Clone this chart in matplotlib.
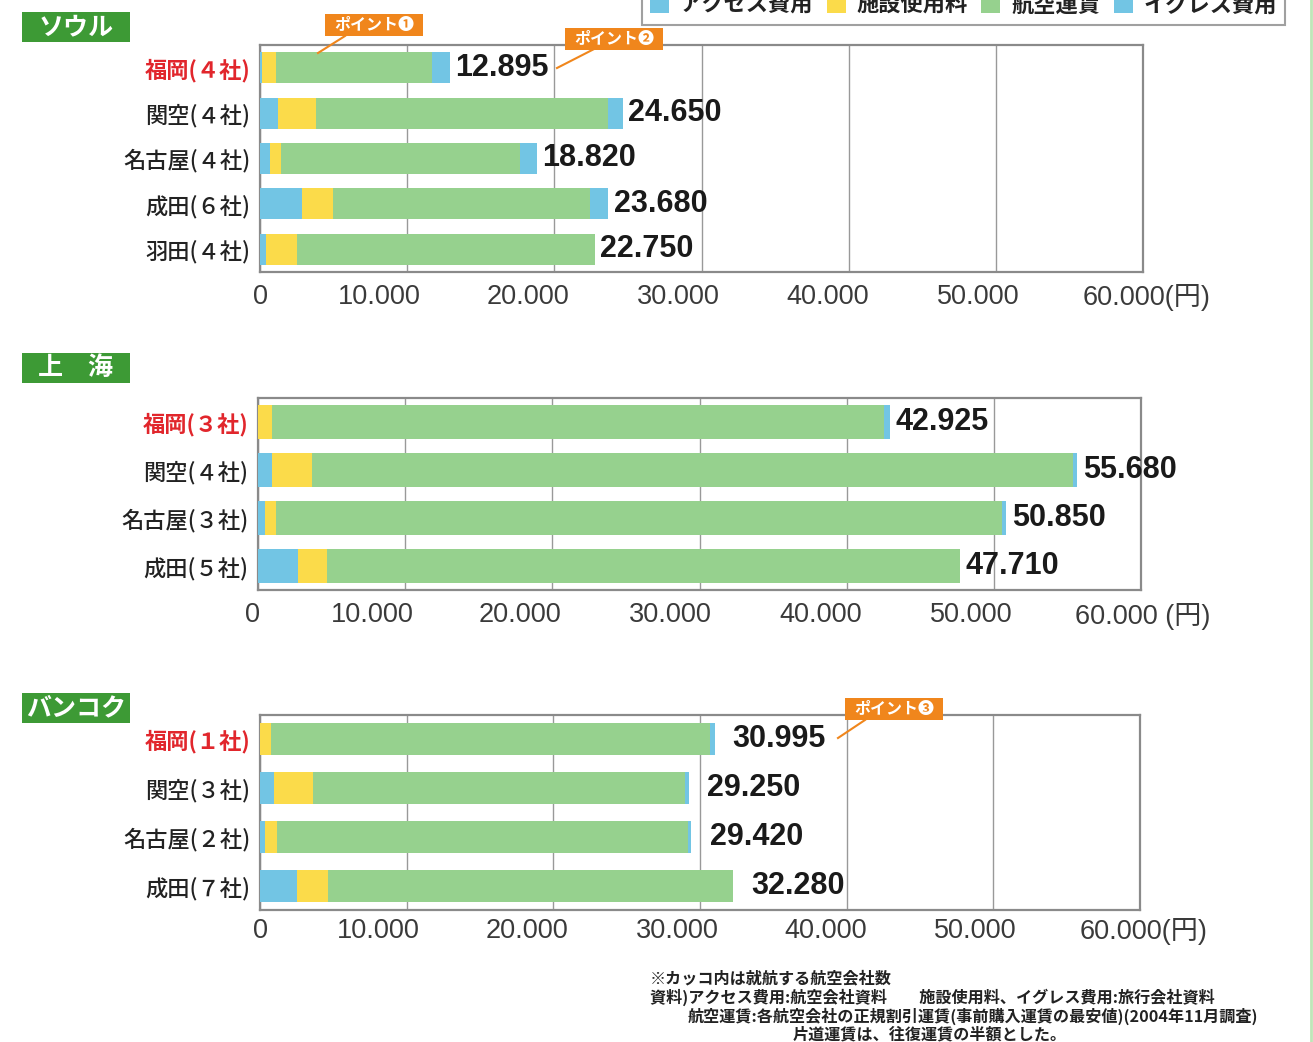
import matplotlib
matplotlib.use("Agg")
import matplotlib.pyplot as plt
from matplotlib.patches import Rectangle, Patch
from matplotlib.lines import Line2D
import numpy as np

plt.rcParams['font.family'] = ['Noto Sans CJK JP', 'DejaVu Sans']

# ---------------- data ----------------
seoul_labels = ["福岡(４社)", "関空(４社)", "名古屋(４社)", "成田(６社)", "羽田(４社)"]
seoul_access = [150, 1200, 700, 2850, 400]
seoul_facility = [945, 2600, 750, 2100, 2100]
seoul_air = [10600, 19850, 16200, 17480, 20250]
seoul_egress = [1200, 1000, 1170, 1250, 0]
seoul_totals = ["12.895", "24.650", "18.820", "23.680", "22.750"]

shanghai_labels = ["福岡(３社)", "関空(４社)", "名古屋(３社)", "成田(５社)"]
shanghai_access = [0, 950, 450, 2700]
shanghai_facility = [950, 2700, 800, 2000]
shanghai_air = [41600, 51700, 49300, 43010]
shanghai_egress = [375, 330, 300, 0]
shanghai_totals = ["42.925", "55.680", "50.850", "47.710"]

bangkok_labels = ["福岡(１社)", "関空(３社)", "名古屋(２社)", "成田(７社)"]
bangkok_access = [0, 950, 350, 2500]
bangkok_facility = [750, 2650, 800, 2150]
bangkok_air = [29900, 25400, 28000, 27630]
bangkok_egress = [345, 250, 270, 0]
bangkok_totals = ["30.995", "29.250", "29.420", "32.280"]

x_ticks = [0, 10000, 20000, 30000, 40000, 50000, 60000]
x_ticklabels = ["0", "10.000", "20.000", "30.000", "40.000", "50.000", "60.000(円)"]
x_ticklabels_sh = ["0", "10.000", "20.000", "30.000", "40.000", "50.000", "60.000 (円)"]

legend_labels = ["アクセス費用", "施設使用料", "航空運賃", "イグレス費用"]
titles = ["ソウル", "上　海", "バンコク"]
points = ["ポイント❶", "ポイント❷", "ポイント❸"]
notes = ["※カッコ内は就航する航空会社数",
         "資料)アクセス費用:航空会社資料　　施設使用料、イグレス費用:旅行会社資料",
         "航空運賃:各航空会社の正規割引運賃(事前購入運賃の最安値)(2004年11月調査)",
         "片道運賃は、往復運賃の半額とした。"]

# ---------------- style ----------------
C_BLUE = "#72c5e4"
C_YEL = "#fbdb4a"
C_GRN = "#96d18e"
C_TITLE = "#3d9a35"
C_ORANGE = "#f0861c"
C_RED = "#e1262c"

W, H = 1313, 1042
fig = plt.figure(figsize=(W / 100, H / 100), dpi=100)

def fx(px):
    return px / W

def fy(py):
    return 1 - py / H

def panel(rect_px, labels, acc, fac, air, egr, totals, ticklabels, bar_h, lab_off, tick_shift, xpad):
    x0, y0, x1, y1 = rect_px
    ax = fig.add_axes([fx(x0), fy(y1), fx(x1 - x0), (y1 - y0) / H])
    n = len(labels)
    y = np.arange(n)
    acc = np.array(acc); fac = np.array(fac); air = np.array(air); egr = np.array(egr)
    ax.barh(y, acc, height=bar_h, color=C_BLUE, zorder=3)
    ax.barh(y, fac, left=acc, height=bar_h, color=C_YEL, zorder=3)
    ax.barh(y, air, left=acc + fac, height=bar_h, color=C_GRN, zorder=3)
    ax.barh(y, egr, left=acc + fac + air, height=bar_h, color=C_BLUE, zorder=3)
    ends = acc + fac + air + egr
    for yi, e, t in zip(y, ends, totals):
        ax.annotate(t, xy=(e, yi), xytext=(lab_off, 0), textcoords="offset points",
                    ha="left", va="center", fontsize=22, color="#1a1a1a", fontweight="bold",
                    family=["Liberation Sans", "DejaVu Sans"])
    ax.set_xlim(0, 60000)
    ax.set_ylim(n - 0.5, -0.5)
    ax.set_xticks(x_ticks)
    ax.set_xticklabels([])
    for v, lab, s in zip(x_ticks, ticklabels, tick_shift):
        ax.annotate(lab, xy=(v, 0), xycoords=("data", "axes fraction"),
                    xytext=(s * 0.72, -xpad), textcoords="offset points",
                    ha="center", va="top", fontsize=19.5, color="#3a3a3a",
                    family=["Liberation Sans", "Noto Sans CJK JP"], annotation_clip=False)
    ax.set_yticks(y)
    ax.set_yticklabels(labels, fontsize=16)
    for i, lab in enumerate(ax.get_yticklabels()):
        if i == 0:
            lab.set_color(C_RED)
            lab.set_fontweight("bold")
        else:
            lab.set_color("#222222")
            lab.set_fontweight("medium")
    ax.tick_params(axis="both", length=0)
    ax.tick_params(axis="y", pad=7)
    ax.grid(axis="x", color="#999999", linewidth=1.0, zorder=0)
    for sp in ax.spines.values():
        sp.set_color("#8a8a8a")
        sp.set_linewidth(1.6)
    return ax

panel((260, 45, 1143, 272), seoul_labels, seoul_access, seoul_facility, seoul_air, seoul_egress,
      seoul_totals, x_ticklabels, 0.68, 4, [0, -28, -26, -23, -21, -18, 4], 9)
panel((258, 398, 1141, 590), shanghai_labels, shanghai_access, shanghai_facility, shanghai_air,
      shanghai_egress, shanghai_totals, x_ticklabels_sh, 0.69, 4, [-5, -33, -32, -29, -26, -23, 2], 9)
panel((260, 715, 1140, 910), bangkok_labels, bangkok_access, bangkok_facility, bangkok_air,
      bangkok_egress, bangkok_totals, x_ticklabels, 0.66, 13, [0, -28, -26, -23, -21, -18, 4], 6)

# section titles
for t, ytop in zip(titles, [12, 353, 693]):
    fig.add_artist(Rectangle((fx(22), fy(ytop + 30)), fx(108), 30 / H, transform=fig.transFigure,
                             facecolor=C_TITLE, edgecolor="none"))
    fig.text(fx(76), fy(ytop + 15), t, ha="center", va="center", fontsize=18, color="white",
             fontweight="bold")

# point callouts
callouts = [((325, 14), (345, 36), (318, 53)),
            ((565, 28), (600, 46), (557, 68)),
            ((845, 698), (865, 720), (838, 738))]
for txt, ((bx, by), (l0x, l0y), (l1x, l1y)) in zip(points, callouts):
    fig.add_artist(Line2D([fx(l0x), fx(l1x)], [fy(l0y), fy(l1y)], transform=fig.transFigure,
                          color=C_ORANGE, linewidth=1.5))
    fig.add_artist(Rectangle((fx(bx), fy(by + 22)), fx(98), 22 / H, transform=fig.transFigure,
                             facecolor=C_ORANGE, edgecolor="none"))
    fig.text(fx(bx + 49), fy(by + 11), txt, ha="center", va="center", fontsize=11.5,
             color="white", fontweight="bold")

# legend (top, partially cut as in the reference)
handles = [Patch(facecolor=c, edgecolor="none") for c in [C_BLUE, C_YEL, C_GRN, C_BLUE]]
leg = fig.legend(handles, legend_labels, ncol=4, loc="upper right",
                 bbox_to_anchor=(fx(1296), fy(-25)), fontsize=16, frameon=True,
                 fancybox=False, edgecolor="#888888", handlelength=0.85, handleheight=0.85,
                 columnspacing=0.6, handletextpad=0.5, borderpad=0.35)
leg.get_frame().set_linewidth(1.5)
for txt in leg.get_texts():
    txt.set_fontweight("bold")
    txt.set_color("#222222")

# footnotes
note_pos = [(650, 978), (650, 997), (688, 1016), (793, 1034)]
for t, (x, y) in zip(notes, note_pos):
    fig.text(fx(x), fy(y), t, ha="left", va="center", fontsize=11.6, color="#222222",
             fontweight="bold")

# right edge line
fig.add_artist(Line2D([fx(1311), fx(1311)], [0, 1], transform=fig.transFigure,
                      color="#bfe6b8", linewidth=2))

fig.savefig("out.png", dpi=100)
